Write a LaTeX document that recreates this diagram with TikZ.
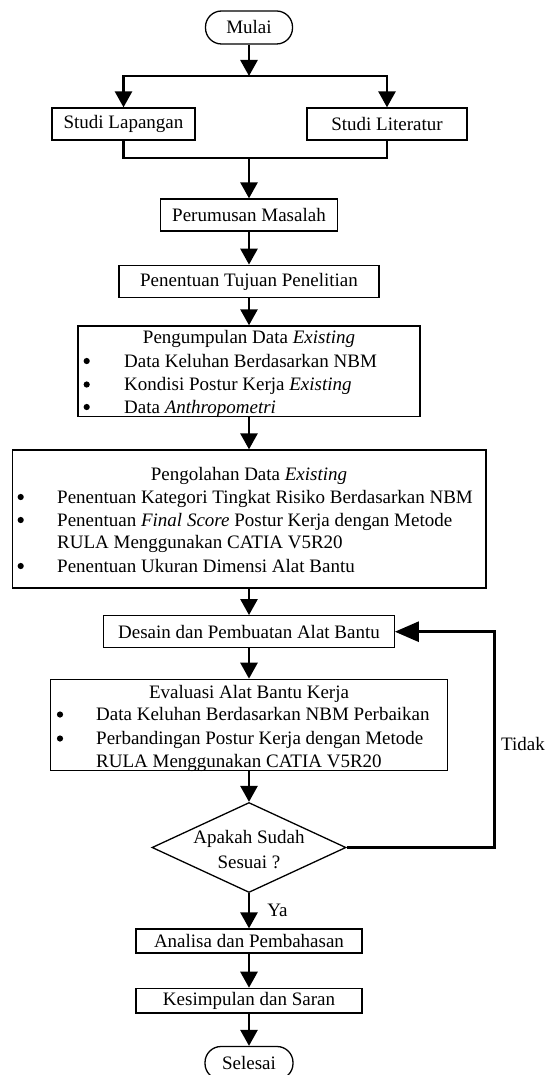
\documentclass[tikz,border=0pt]{standalone}
\usepackage{fontspec}
\setmainfont{Liberation Serif}
\usetikzlibrary{arrows.meta,shapes.geometric}

\begin{document}
\begin{tikzpicture}[x=1pt,y=-1pt,
  font=\fontsize{19}{23}\selectfont,
  box/.style={draw,line width=1.3pt,inner sep=0pt},
  term/.style={box,rounded corners=16pt,minimum width=87pt,minimum height=33pt},
  decision/.style={draw,line width=1.3pt,diamond,inner sep=0pt,minimum width=194pt,minimum height=90pt},
  line/.style={line width=2.7pt,line cap=rect},
  flow/.style={line width=2.7pt,-{Triangle[length=16pt,width=17pt]}},
  backflow/.style={line width=2.7pt,-{Triangle[length=24pt,width=20pt]}},
  txt/.style={inner sep=0pt,anchor=base west},
  ttl/.style={inner sep=0pt,anchor=base},
  dot/.style={circle,fill,inner sep=0pt,minimum size=6.2pt,yshift=6pt}]
\useasboundingbox (0,0) rectangle (544,1075);

% --- start and parallel studies ---
\node[term] (mulai) at (249,27.5) {Mulai};
\coordinate (split) at (249,76);
\coordinate (splitL) at (123.5,76);
\coordinate (splitR) at (387,76);
\node[box,minimum width=143pt,minimum height=32pt] (lap) at (123.5,124) {Studi Lapangan};
\node[box,minimum width=160pt,minimum height=32pt] (lit) at (387,124) {Studi Literatur};
\coordinate (joinL) at (123.5,158);
\coordinate (joinR) at (387,158);
\coordinate (join) at (249,158);

\draw[flow] (mulai) -- (split);
\draw[line] (splitL) -- (splitR);
\draw[flow] (splitL) -- (lap);
\draw[flow] (splitR) -- (lit);
\draw[line,line cap=butt] (lap) -- (joinL) -- (joinR) -- (lit);

% --- problem and goals ---
\node[box,minimum width=177pt,minimum height=32pt] (rumus) at (249,215) {Perumusan Masalah};
\node[box,minimum width=260pt,minimum height=32.5pt] (tujuan) at (249,281.5) {Penentuan Tujuan Penelitian};
\draw[flow] (join) -- (rumus);
\draw[flow] (rumus) -- (tujuan);

% --- data collection ---
\node[box,minimum width=342pt,minimum height=90.7pt] (kumpul) at (249,371.3) {};
\node[ttl] (kumpulT) at (249,343.5) {Pengumpulan Data \textit{Existing}};
\node[dot] (kb1) at (86.7,367) {};
\node[txt] (k1) at (124,367) {Data Keluhan Berdasarkan NBM};
\node[dot] (kb2) at (86.7,390.5) {};
\node[txt] (k2) at (124,390.5) {Kondisi Postur Kerja \textit{Existing}};
\node[dot] (kb3) at (86.7,413) {};
\node[txt] (k3) at (124,413) {Data \textit{Anthropometri}};
\draw[flow] (tujuan) -- (kumpul);

% --- data processing ---
\node[box,minimum width=473.7pt,minimum height=138pt] (olah) at (249,519) {};
\node[ttl] (olahT) at (249,480) {Pengolahan Data \textit{Existing}};
\node[dot] (ob1) at (20.7,503) {};
\node[txt] (o1) at (57,503) {Penentuan Kategori Tingkat Risiko Berdasarkan NBM};
\node[dot] (ob2) at (20.7,526) {};
\node[txt] (o2) at (57,526) {Penentuan \textit{Final Score} Postur Kerja dengan Metode};
\node[txt] (o2b) at (57,548.5) {RULA Menggunakan CATIA V5R20};
\node[dot] (ob3) at (20.7,572) {};
\node[txt] (o3) at (57,572) {Penentuan Ukuran Dimensi Alat Bantu};
\draw[flow] (kumpul) -- (olah);

% --- design and evaluation ---
\node[box,minimum width=290.4pt,minimum height=32pt] (desain) at (249,631.7) {Desain dan Pembuatan Alat Bantu};
\draw[flow] (olah) -- (desain);

\node[box,minimum width=396.5pt,minimum height=91pt] (eval) at (249,724.8) {};
\node[ttl] (evalT) at (249,698) {Evaluasi Alat Bantu Kerja};
\node[dot] (eb1) at (60,720.5) {};
\node[txt] (e1) at (96,720.5) {Data Keluhan Berdasarkan NBM Perbaikan};
\node[dot] (eb2) at (60,744.5) {};
\node[txt] (e2) at (96,744.5) {Perbandingan Postur Kerja dengan Metode};
\node[txt] (e2b) at (96,767) {RULA Menggunakan CATIA V5R20};
\draw[flow] (desain) -- (eval);

% --- decision with loop back ---
\node[decision] (cek) at (249,847.5) {};
\node[ttl] (cekA) at (249,843) {Apakah Sudah};
\node[ttl] (cekB) at (249,868) {Sesuai ?};
\draw[flow] (eval) -- (cek);

\coordinate (fbB) at (494.4,847.5);
\coordinate (fbT) at (494.4,631.7);
\draw[backflow] (cek.east) -- (fbB) -- (fbT) -- (desain.east);
\node[inner sep=0pt,anchor=west] (tidak) at (501,744) {Tidak};

% --- closing steps ---
\node[box,minimum width=226pt,minimum height=24pt] (analisa) at (249,941) {Analisa dan Pembahasan};
\node[box,minimum width=226pt,minimum height=24.7pt] (simpul) at (249,1000.7) {Kesimpulan dan Saran};
\node[term,minimum width=88pt] (selesai) at (249,1063) {Selesai};
\draw[flow] (cek.south) -- node[right,inner sep=0pt,xshift=17pt] (ya) {Ya} (analisa);
\draw[flow] (analisa) -- (simpul);
\draw[flow] (simpul) -- (selesai);
\end{tikzpicture}
\end{document}
